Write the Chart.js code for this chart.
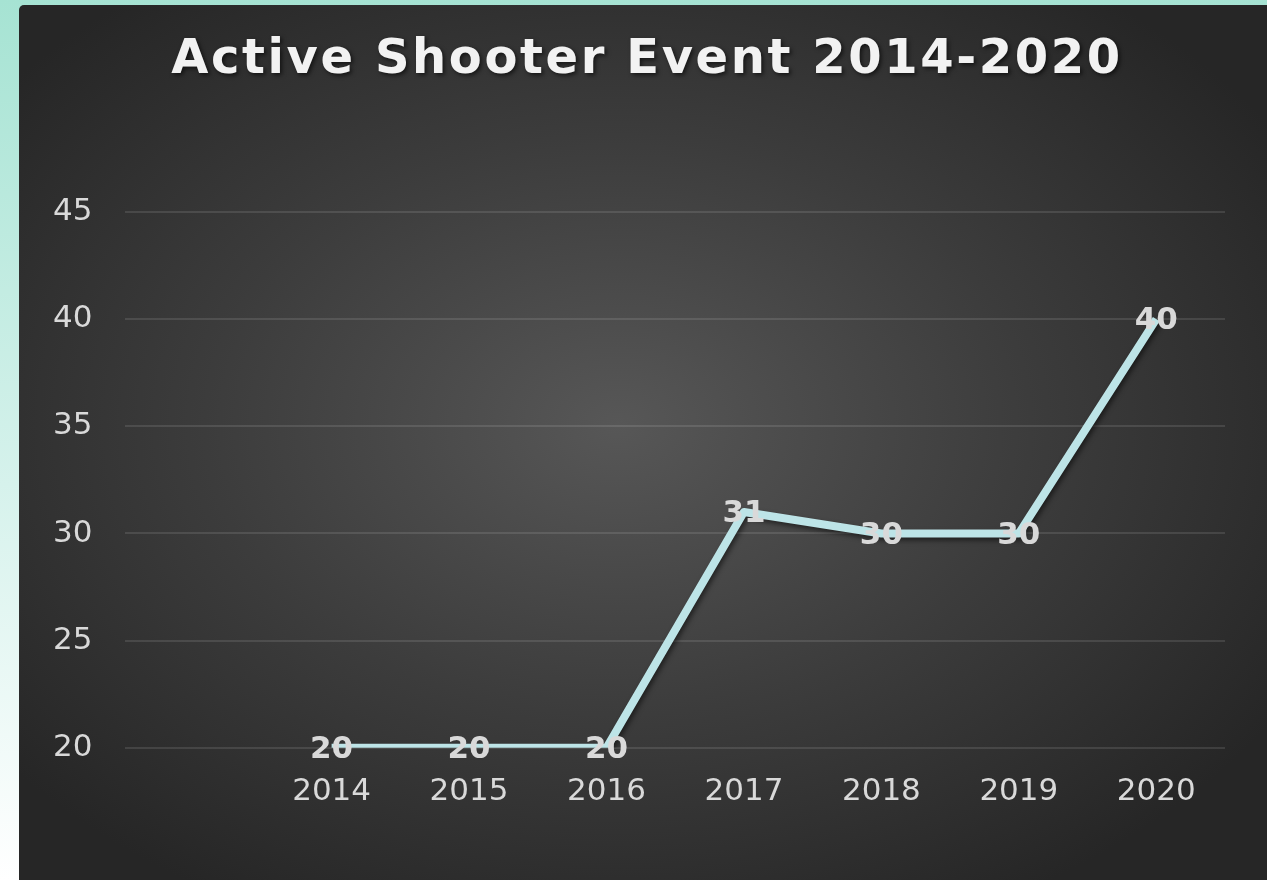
<!DOCTYPE html>
<html>
<head>
<meta charset="utf-8">
<script src="https://cdn.jsdelivr.net/npm/chart.js@4.4.1/dist/chart.umd.min.js"></script>
<style>
  html, body { margin: 0; padding: 0; }
  body {
    width: 1267px; height: 880px; overflow: hidden; position: relative;
    background: linear-gradient(to bottom, #a6e3d3 0%, #d6f2ec 55%, #ffffff 100%);
  }
  .card {
    position: absolute; left: 19px; top: 5px; width: 1248px; height: 875px;
    border-top-left-radius: 5px;
    background: radial-gradient(ellipse at 48% 48%, #575757 0%, #3c3c3c 45%, #262626 85%);
  }
  canvas { display: block; }
</style>
</head>
<body>
<div class="card"><canvas id="myChart" width="1248" height="875"></canvas></div>
<script>
const years = ["", "2014", "2015", "2016", "2017", "2018", "2019", "2020"];
const events = [null, 20, 20, 20, 31, 30, 30, 40];
const yTicks = [20, 25, 30, 35, 40, 45];
const chartTitle = "Active Shooter Event 2014-2020";

const textColor = "#d9d9d9";
const lineColor = "#bde4e7";

// title drawn by hand so letter spacing and shadow can be set
const titlePlugin = {
  id: "titlePlugin",
  afterDraw(chart) {
    const ctx = chart.ctx;
    ctx.save();
    ctx.font = "bold 48px 'DejaVu Sans', Verdana, sans-serif";
    ctx.letterSpacing = "2.6px";
    ctx.fillStyle = "#f2f2f2";
    ctx.textAlign = "center";
    ctx.textBaseline = "alphabetic";
    ctx.shadowColor = "rgba(0,0,0,0.6)";
    ctx.shadowBlur = 4;
    ctx.shadowOffsetX = 2;
    ctx.shadowOffsetY = 2;
    ctx.fillText(chartTitle, chart.width / 2 + 4, 68);
    ctx.restore();
  },
};

const lineShadow = {
  id: "lineShadow",
  beforeDatasetDraw(chart) {
    const ctx = chart.ctx;
    ctx.save();
    ctx.shadowColor = "rgba(0,0,0,0.5)";
    ctx.shadowBlur = 5;
    ctx.shadowOffsetX = 2;
    ctx.shadowOffsetY = 3;
  },
  afterDatasetDraw(chart) {
    chart.ctx.restore();
  },
};

const valueLabels = {
  id: "valueLabels",
  afterDatasetsDraw(chart) {
    const ctx = chart.ctx;
    const meta = chart.getDatasetMeta(0);
    ctx.save();
    ctx.font = "bold 31px 'DejaVu Sans', Verdana, sans-serif";
    ctx.fillStyle = textColor;
    ctx.textAlign = "center";
    ctx.textBaseline = "middle";
    meta.data.forEach((pt, i) => {
      const v = events[i];
      if (v === null) return;
      ctx.fillText(String(v), pt.x, pt.y + 2);
    });
    ctx.restore();
  },
};

const ctx = document.getElementById("myChart").getContext("2d");
const myChart = new Chart(ctx, {
  type: "line",
  data: {
    labels: years,
    datasets: [
      {
        data: events,
        borderColor: lineColor,
        borderWidth: 8,
        pointRadius: 0,
        pointHoverRadius: 0,
        tension: 0,
        spanGaps: false,
        borderJoinStyle: "round",
      },
    ],
  },
  options: {
    responsive: false,
    animation: false,
    layout: { padding: { left: 1, right: 42, top: 207, bottom: 43 } },
    plugins: {
      legend: { display: false },
      title: { display: false },
      tooltip: { enabled: false },
    },
    scales: {
      x: {
        offset: true,
        grid: { display: false, drawTicks: false },
        border: { display: false },
        ticks: {
          color: textColor,
          padding: 26,
          maxRotation: 0,
          font: { family: "'DejaVu Sans', Verdana, sans-serif", size: 31 },
        },
      },
      y: {
        min: yTicks[0],
        max: yTicks[yTicks.length - 1],
        afterBuildTicks: (axis) => {
          axis.ticks = yTicks.map((v) => ({ value: v }));
        },
        grid: { color: "rgba(255,255,255,0.11)", lineWidth: 2, drawTicks: false },
        border: { display: false },
        ticks: {
          color: textColor,
          padding: 33,
          font: { family: "'DejaVu Sans', Verdana, sans-serif", size: 31 },
        },
      },
    },
  },
  plugins: [lineShadow, valueLabels, titlePlugin],
});
</script>
</body>
</html>
